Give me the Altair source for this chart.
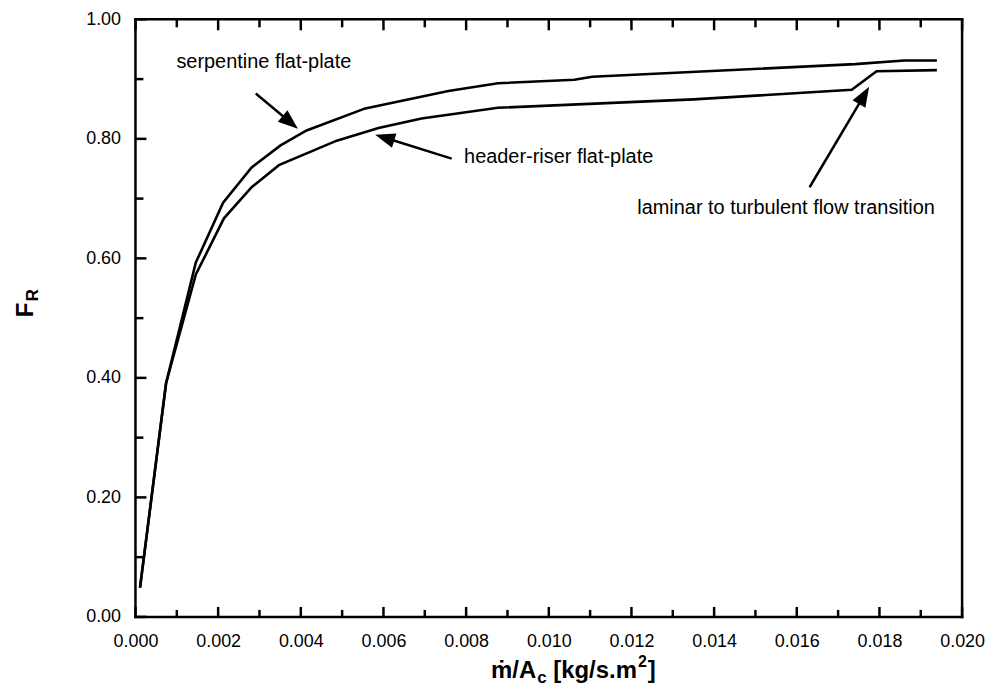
import math
import altair as alt
import pandas as pd

W, H = 830, 600
FONT = "Liberation Sans, Arial, Helvetica, sans-serif"

# ---- data ----
serp_x = [0.00011, 0.00074, 0.00146, 0.00212, 0.00281, 0.00351, 0.00414, 0.00556,
          0.00757, 0.00877, 0.01062, 0.01105, 0.01741, 0.01860, 0.01939]
serp_y = [0.049, 0.391, 0.593, 0.693, 0.752, 0.789, 0.814, 0.851,
          0.880, 0.893, 0.899, 0.904, 0.925, 0.931, 0.931]

hr_x = [0.00011, 0.00074, 0.00146, 0.00214, 0.00281, 0.00347, 0.00487, 0.00588,
        0.00692, 0.00877, 0.01350, 0.01733, 0.01793, 0.01939]
hr_y = [0.049, 0.391, 0.573, 0.667, 0.719, 0.756, 0.797, 0.818,
        0.834, 0.852, 0.866, 0.882, 0.913, 0.915]

x_major = [0.000, 0.002, 0.004, 0.006, 0.008, 0.010, 0.012, 0.014, 0.016, 0.018, 0.020]
x_minor = [0.001, 0.003, 0.005, 0.007, 0.009, 0.011, 0.013, 0.015, 0.017, 0.019]
y_major = [0.0, 0.2, 0.4, 0.6, 0.8, 1.0]
y_minor = [0.1, 0.3, 0.5, 0.7, 0.9]

ann_text = ["serpentine flat-plate", "header-riser flat-plate",
            "laminar to turbulent flow transition"]
ann_x = [0.00099, 0.00795, 0.01214]
ann_y = [0.928, 0.770, 0.685]

arrow_tail_x = [0.00291, 0.00765, 0.01631]
arrow_tail_y = [0.876, 0.767, 0.719]
arrow_tip_x = [0.00393, 0.00580, 0.01775]
arrow_tip_y = [0.817, 0.807, 0.887]

XMAX = 0.02
xs = alt.Scale(domain=[0, XMAX], nice=False, zero=False)
ys = alt.Scale(domain=[0, 1], nice=False, zero=False)

XAXIS = alt.Axis(values=x_major, format=".3f", title=None, ticks=False, domain=False,
                 grid=False, labelFontSize=18, labelFont=FONT, labelColor="black",
                 labelPadding=16, labelFlush=False)
YAXIS = alt.Axis(values=y_major, format=".2f", title=None, ticks=False, domain=False,
                 grid=False, labelFontSize=18, labelFont=FONT, labelColor="black",
                 labelPadding=15, labelFlush=False)


def X(field):
    return alt.X(field, type="quantitative", scale=xs, axis=XAXIS)


def Y(field):
    return alt.Y(field, type="quantitative", scale=ys, axis=YAXIS)


lines_df = pd.concat([
    pd.DataFrame({"x": serp_x, "y": serp_y, "s": "serpentine flat-plate"}),
    pd.DataFrame({"x": hr_x, "y": hr_y, "s": "header-riser flat-plate"}),
])

lines = alt.Chart(lines_df).mark_line(color="black", strokeWidth=2.6).encode(
    x=X("x"), y=Y("y"), detail="s:N")

# arrows: shaft + filled head (direction computed in pixel space)
sx, sy = W / XMAX, H / 1.0
shaft_rows = []
heads_rows = []
for tx, ty, hx, hy in zip(arrow_tail_x, arrow_tail_y, arrow_tip_x, arrow_tip_y):
    dxp = (hx - tx) * sx
    dyp = -(hy - ty) * sy
    length = math.hypot(dxp, dyp)
    ang = math.degrees(math.atan2(dyp, dxp)) % 360
    f = 1 - 12 / length
    shaft_rows.append({"x": tx, "y": ty, "x2": tx + (hx - tx) * f, "y2": ty + (hy - ty) * f})
    heads_rows.append({"hx": hx, "hy": hy, "ang": ang})

# frame and inward tick marks (pixel lengths converted to data units)
px_x = XMAX / W
px_y = 1.0 / H
frame_rows = [
    {"x": 0.0, "x2": XMAX, "y": 0.0, "y2": 0.0},
    {"x": 0.0, "x2": XMAX, "y": 1.0, "y2": 1.0},
    {"x": 0.0, "x2": 0.0, "y": 0.0, "y2": 1.0},
    {"x": XMAX, "x2": XMAX, "y": 0.0, "y2": 1.0},
]
tick_rows = []
for v in x_major:
    tick_rows.append({"x": v, "x2": v, "y": 0.0, "y2": 10 * px_y})
    tick_rows.append({"x": v, "x2": v, "y": 1.0, "y2": 1.0 - 11 * px_y})
for v in x_minor:
    tick_rows.append({"x": v, "x2": v, "y": 0.0, "y2": 7 * px_y})
    tick_rows.append({"x": v, "x2": v, "y": 1.0, "y2": 1.0 - 8 * px_y})
for v in y_major:
    tick_rows.append({"x": 0.0, "x2": 11 * px_x, "y": v, "y2": v})
for v in y_minor:
    tick_rows.append({"x": 0.0, "x2": 8 * px_x, "y": v, "y2": v})

shafts = alt.Chart(pd.DataFrame(shaft_rows)).mark_rule(color="black", strokeWidth=2.5).encode(
    x=X("x"), y=Y("y"), x2="x2:Q", y2="y2:Q")
frame = alt.Chart(pd.DataFrame(frame_rows)).mark_rule(
    color="black", strokeWidth=2.5, strokeCap="square").encode(
    x=X("x"), y=Y("y"), x2="x2:Q", y2="y2:Q")
ticks = alt.Chart(pd.DataFrame(tick_rows)).mark_rule(
    color="#000000", strokeWidth=2.5, opacity=1).encode(
    x=X("x"), y=Y("y"), x2="x2:Q", y2="y2:Q")
heads = alt.Chart(pd.DataFrame(heads_rows)).mark_point(
    shape="M0,0 L-2,-0.75 L-2,0.75 Z", filled=True, size=400, color="black",
    opacity=1, strokeWidth=0
).encode(x=X("hx"), y=Y("hy"), angle=alt.Angle("ang:Q", scale=None))

ann_df = pd.DataFrame({"x": ann_x, "y": ann_y, "t": ann_text})
annotations = alt.Chart(ann_df).mark_text(
    align="left", baseline="middle", fontSize=20, font=FONT, color="black"
).encode(x=X("x"), y=Y("y"), text="t:N")

# composite axis titles (sub/superscripts)
one = pd.DataFrame({"a": [0]})
title_layers = []
x0 = 357
base = H + 61
pieces = [
    ("ṁ/A", 24, 0, 0),
    ("c", 17, 46.3, 5),
    ("[kg/s.m", 24, 62.5, 0),
    ("2", 16, 147.5, -11),
    ("]", 24, 157.4, 0),
]
for txt, fs, off, dy in pieces:
    title_layers.append(alt.Chart(one).mark_text(
        text=txt, fontSize=fs, fontWeight="bold", font=FONT, color="black",
        align="left", baseline="alphabetic"
    ).encode(x=alt.value(x0 + off), y=alt.value(base + dy)))

for txt, fs, xp, yp in [("F", 24, -103, 299), ("R", 17, -98, 283)]:
    title_layers.append(alt.Chart(one).mark_text(
        text=txt, fontSize=fs, fontWeight="bold", font=FONT, color="black",
        align="left", baseline="alphabetic", angle=270
    ).encode(x=alt.value(xp), y=alt.value(yp)))

chart = alt.layer(lines, annotations, shafts, heads, frame, ticks, *title_layers).properties(
    width=W, height=H,
    autosize=alt.AutoSizeParams(type="none"),
    padding={"left": 128, "top": 10, "right": 25, "bottom": 70},
    background="white",
).configure_view(strokeWidth=0, stroke="transparent")

chart.save("out.html", embed_options={"renderer": "svg", "actions": False})
